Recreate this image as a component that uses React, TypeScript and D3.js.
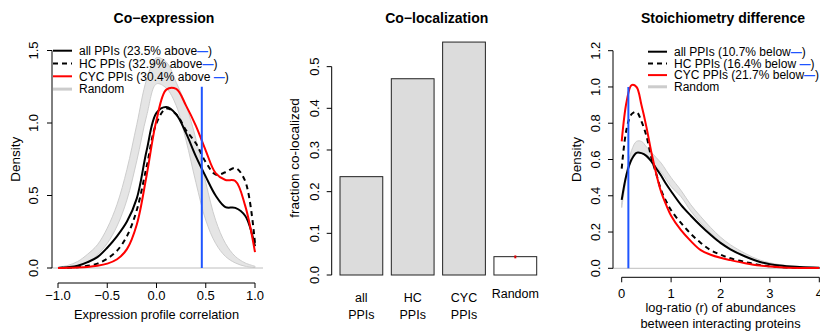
import * as d3 from "d3";

const FONT = "'Liberation Sans', Arial, Helvetica, sans-serif";
const BLUE = "#1f55ff";
const GRID_GRAY = "#bebebe";

// ---- Co-expression panel data ----
const corrX = [-1, -0.9, -0.8, -0.7, -0.6, -0.5, -0.4, -0.3, -0.2, -0.1, 0, 0.1, 0.2, 0.3, 0.4, 0.5, 0.6, 0.7, 0.8, 0.9, 1];
const corrAll = [0, 0.005, 0.015, 0.04, 0.075, 0.14, 0.22, 0.32, 0.48, 0.81, 1.07, 1.11, 1.06, 0.93, 0.77, 0.63, 0.5, 0.42, 0.415, 0.36, 0.15];
const corrHC = [0, 0.002, 0.006, 0.015, 0.03, 0.065, 0.12, 0.22, 0.4, 0.7, 1.0, 1.1, 1.06, 0.95, 0.86, 0.73, 0.645, 0.66, 0.69, 0.6, 0.17];
const corrCYC = [0, 0.001, 0.003, 0.007, 0.015, 0.03, 0.06, 0.13, 0.3, 0.64, 1.02, 1.23, 1.235, 1.12, 0.98, 0.81, 0.655, 0.607, 0.6, 0.43, 0.11];
const corrRandLow = [0.001, 0.004, 0.012, 0.035, 0.09, 0.17, 0.29, 0.47, 0.74, 1.05, 1.27, 1.24, 1.12, 0.88, 0.59, 0.33, 0.17, 0.08, 0.035, 0.012, 0.003];
const corrRandHigh = [0.005, 0.018, 0.045, 0.095, 0.16, 0.275, 0.44, 0.68, 0.99, 1.3, 1.45, 1.42, 1.28, 1.12, 0.89, 0.59, 0.33, 0.17, 0.08, 0.035, 0.012];
const corrTicksX = [-1, -0.5, 0, 0.5, 1];
const corrTicksY = [0, 0.5, 1, 1.5];
const corrCutoff = 0.46;
const corrCutoffTop = 1.25;
const corrLegend = ["all PPIs (23.5% above", "HC PPIs (32.9% above", "CYC PPIs (30.4% above ", "Random"];

// ---- Co-localization panel data ----
const colocCats = ["all PPIs", "HC PPIs", "CYC PPIs", "Random"];
const colocLabels = [["all", "PPIs"], ["HC", "PPIs"], ["CYC", "PPIs"], ["Random"]];
const colocValues = [0.236, 0.471, 0.559, 0.044];
const colocRandomErr = [0.04, 0.047];
const colocTicks = [0, 0.1, 0.2, 0.3, 0.4, 0.5];

// ---- Stoichiometry panel data ----
const ratioX = [0, 0.1, 0.2, 0.3, 0.4, 0.5, 0.6, 0.7, 0.8, 0.9, 1, 1.2, 1.4, 1.6, 1.8, 2, 2.2, 2.5, 2.8, 3.2, 3.6, 4];
const ratioAll = [0.377, 0.52, 0.6, 0.637, 0.635, 0.62, 0.59, 0.55, 0.51, 0.465, 0.425, 0.35, 0.29, 0.235, 0.185, 0.14, 0.105, 0.065, 0.035, 0.015, 0.007, 0.003];
const ratioHC = [0.55, 0.77, 0.85, 0.862, 0.81, 0.73, 0.61, 0.52, 0.43, 0.37, 0.32, 0.25, 0.19, 0.14, 0.1, 0.075, 0.055, 0.035, 0.018, 0.007, 0.003, 0.001];
const ratioCYC = [0.7, 0.92, 1.01, 1.0, 0.9, 0.78, 0.64, 0.52, 0.42, 0.35, 0.29, 0.21, 0.15, 0.1, 0.075, 0.058, 0.045, 0.028, 0.015, 0.006, 0.002, 0.001];
const ratioRandLow = [0.335, 0.5, 0.61, 0.64, 0.635, 0.615, 0.59, 0.56, 0.53, 0.49, 0.45, 0.395, 0.315, 0.25, 0.195, 0.145, 0.108, 0.066, 0.034, 0.013, 0.005, 0.002];
const ratioRandHigh = [0.36, 0.535, 0.65, 0.7, 0.7, 0.67, 0.64, 0.61, 0.58, 0.54, 0.5, 0.43, 0.35, 0.285, 0.225, 0.172, 0.13, 0.082, 0.045, 0.02, 0.008, 0.004];
const ratioTicksX = [0, 1, 2, 3, 4];
const ratioTicksY = [0, 0.2, 0.4, 0.6, 0.8, 1, 1.2];
const ratioCutoff = 0.135;
const ratioCutoffTop = 1.0;
const ratioLegend = ["all PPIs (10.7% below", "HC PPIs (16.4% below ", "CYC PPIs (21.7% below", "Random"];

const seriesStyles = [
  { stroke: "#000", dash: undefined },
  { stroke: "#000", dash: "5,4" },
  { stroke: "#ff0000", dash: undefined },
];

const fmt1 = d3.format(".1f");

type DensityProps = {
  xs: number[];
  series: number[][];
  low: number[];
  high: number[];
  x: d3.ScaleLinear<number, number>;
  y: d3.ScaleLinear<number, number>;
  ticksX: number[];
  ticksY: number[];
  tickFmtX: (v: number) => string;
  tickLabelY: number;
  axisY: number;
  axisX: number;
  baseline: [number, number];
  cutoff: number;
  cutoffTop: number;
  legend: string[];
  legendX: number;
  legendY: number;
  legendStep: number;
  title: string;
  titleX: number;
  xLabel: string[];
  xLabelY: number;
  xLabelStep: number;
  yLabelX: number;
  yTickX: number;
};

function DensityPanel(p: DensityProps) {
  const pts = (vals: number[]) => p.xs.map((v, i) => [v, vals[i]] as [number, number]);
  const line = d3
    .line<[number, number]>()
    .x((d) => p.x(d[0]))
    .y((d) => p.y(d[1]))
    .curve(d3.curveCatmullRom.alpha(0.5));
  const area = d3
    .area<number>()
    .x((v) => p.x(v))
    .y0((_, i) => p.y(p.low[i]))
    .y1((_, i) => p.y(p.high[i]))
    .curve(d3.curveCatmullRom.alpha(0.5));
  const [y0, y1] = p.y.range();
  const [x0, x1] = p.x.range();
  return (
    <g>
      <text x={p.titleX} y={23} textAnchor="middle" fontWeight="bold" fontSize={14}>
        {p.title}
      </text>
      {/* random band */}
      <path d={area(p.xs) || ""} fill="#e5e5e5" stroke="#cdcdcd" strokeWidth={1} />
      <line x1={p.baseline[0]} x2={p.baseline[1]} y1={p.y(0)} y2={p.y(0)} stroke={GRID_GRAY} strokeWidth={1} />
      {p.series.map((s, i) => (
        <path
          key={i}
          d={line(pts(s)) || ""}
          fill="none"
          stroke={seriesStyles[i].stroke}
          strokeWidth={2}
          strokeDasharray={seriesStyles[i].dash}
        />
      ))}
      <line
        x1={p.x(p.cutoff)}
        x2={p.x(p.cutoff)}
        y1={p.y(0)}
        y2={p.y(p.cutoffTop)}
        stroke={BLUE}
        strokeWidth={2}
      />
      {/* y axis */}
      <line x1={p.axisY} x2={p.axisY} y1={p.y(p.ticksY[0])} y2={p.y(p.ticksY[p.ticksY.length - 1])} stroke="#000" />
      {p.ticksY.map((t) => (
        <g key={t}>
          <line x1={p.axisY - 5} x2={p.axisY} y1={p.y(t)} y2={p.y(t)} stroke="#000" />
          <text
            transform={`translate(${p.yTickX},${p.y(t)}) rotate(-90)`}
            textAnchor="middle"
            fontSize={13}
          >
            {fmt1(t)}
          </text>
        </g>
      ))}
      {/* x axis */}
      <line x1={x0} x2={x1} y1={p.axisX} y2={p.axisX} stroke="#000" />
      {p.ticksX.map((t) => (
        <g key={t}>
          <line x1={p.x(t)} x2={p.x(t)} y1={p.axisX} y2={p.axisX + 5} stroke="#000" />
          <text x={p.x(t)} y={p.tickLabelY} textAnchor="middle" fontSize={13}>
            {p.tickFmtX(t)}
          </text>
        </g>
      ))}
      {p.xLabel.map((s, i) => (
        <text key={i} x={(x0 + x1) / 2} y={p.xLabelY + i * p.xLabelStep} textAnchor="middle" fontSize={12.8}>
          {s}
        </text>
      ))}
      <text
        transform={`translate(${p.yLabelX},${(y0 + y1) / 2}) rotate(-90)`}
        textAnchor="middle"
        fontSize={13.5}
      >
        Density
      </text>
      {/* legend */}
      {p.legend.map((s, i) => {
        const ly = p.legendY + i * p.legendStep;
        const isRandom = i === 3;
        return (
          <g key={i}>
            <line
              x1={p.legendX}
              x2={p.legendX + 19}
              y1={ly}
              y2={ly}
              stroke={isRandom ? "#cccccc" : seriesStyles[i].stroke}
              strokeWidth={isRandom ? 3 : 2}
              strokeDasharray={isRandom ? undefined : seriesStyles[i].dash}
            />
            <text x={p.legendX + 26} y={ly + 4.2} fontSize={12} xmlSpace="preserve">
              {s}
              {!isRandom && (
                <tspan fill={BLUE} fontWeight="bold" fontSize={11}>
                  —
                </tspan>
              )}
              {!isRandom && ")"}
            </text>
          </g>
        );
      })}
    </g>
  );
}

export default function App() {
  // Co-expression scales
  const cx = d3.scaleLinear().domain([-1, 1]).range([58, 255]);
  const cy = d3.scaleLinear().domain([0, 1.5]).range([268, 50.5]);

  // Stoichiometry scales
  const sx = d3.scaleLinear().domain([0, 4]).range([621.7, 819.3]);
  const sy = d3.scaleLinear().domain([0, 1.2]).range([268.3, 50.7]);

  // Co-localization scales
  const bx = d3.scaleBand<string>().domain(colocCats).range([340, 536.7]).paddingInner(0.1667).paddingOuter(0);
  const by = d3.scaleLinear().domain([0, 0.5]).range([275, 66.65]);

  return (
    <svg
      width={820}
      height={331}
      style={{ position: "absolute", left: 0, top: 0, background: "#fff" }}
      fontFamily={FONT}
    >
      <rect width={820} height={331} fill="#fff" />
      <DensityPanel
        xs={corrX}
        series={[corrAll, corrHC, corrCYC]}
        low={corrRandLow}
        high={corrRandHigh}
        x={cx}
        y={cy}
        ticksX={corrTicksX}
        ticksY={corrTicksY}
        tickFmtX={fmt1}
        tickLabelY={299.5}
        axisY={52}
        axisX={283}
        baseline={[50, 263]}
        cutoff={corrCutoff}
        cutoffTop={corrCutoffTop}
        legend={corrLegend}
        legendX={53}
        legendY={50.7}
        legendStep={12.8}
        title="Co−expression"
        titleX={164}
        xLabel={["Expression profile correlation"]}
        xLabelY={318.5}
        xLabelStep={0}
        yLabelX={19.5}
        yTickX={37.5}
      />

      {/* Co-localization */}
      <g>
        <text x={436.7} y={23} textAnchor="middle" fontWeight="bold" fontSize={14}>
          Co−localization
        </text>
        {colocCats.map((c, i) => (
          <rect
            key={c}
            x={bx(c)}
            y={by(colocValues[i])}
            width={bx.bandwidth()}
            height={by(0) - by(colocValues[i])}
            fill={i === 3 ? "#fff" : "#dcdcdc"}
            stroke="#222"
            strokeWidth={1}
          />
        ))}
        <line
          x1={(bx("Random") || 0) + bx.bandwidth() / 2}
          x2={(bx("Random") || 0) + bx.bandwidth() / 2}
          y1={by(colocRandomErr[0])}
          y2={by(colocRandomErr[1])}
          stroke="#dd0000"
          strokeWidth={2}
        />
        <line x1={331.7} x2={331.7} y1={by(0)} y2={by(0.5)} stroke="#000" />
        {colocTicks.map((t) => (
          <g key={t}>
            <line x1={326.7} x2={331.7} y1={by(t)} y2={by(t)} stroke="#000" />
            <text transform={`translate(319,${by(t)}) rotate(-90)`} textAnchor="middle" fontSize={13}>
              {fmt1(t)}
            </text>
          </g>
        ))}
        <text transform={`translate(299,158) rotate(-90)`} textAnchor="middle" fontSize={13.5}>
          fraction co-localized
        </text>
        {colocCats.map((c, i) => {
          const mid = (bx(c) || 0) + bx.bandwidth() / 2;
          const lines = colocLabels[i];
          return lines.map((s, j) => (
            <text
              key={c + j}
              x={mid}
              y={lines.length === 1 ? 298 : 301.5 + j * 17}
              textAnchor="middle"
              fontSize={12.5}
            >
              {s}
            </text>
          ));
        })}
      </g>

      <DensityPanel
        xs={ratioX}
        series={[ratioAll, ratioHC, ratioCYC]}
        low={ratioRandLow}
        high={ratioRandHigh}
        x={sx}
        y={sy}
        ticksX={ratioTicksX}
        ticksY={ratioTicksY}
        tickFmtX={(v) => String(v)}
        tickLabelY={298}
        axisY={613}
        axisX={277.3}
        baseline={[613, 820]}
        cutoff={ratioCutoff}
        cutoffTop={ratioCutoffTop}
        legend={ratioLegend}
        legendX={648}
        legendY={51.7}
        legendStep={11.7}
        title="Stoichiometry difference"
        titleX={723}
        xLabel={["log-ratio (r) of abundances", "between interacting proteins"]}
        xLabelY={311.5}
        xLabelStep={16.5}
        yLabelX={581}
        yTickX={600}
      />
    </svg>
  );
}
